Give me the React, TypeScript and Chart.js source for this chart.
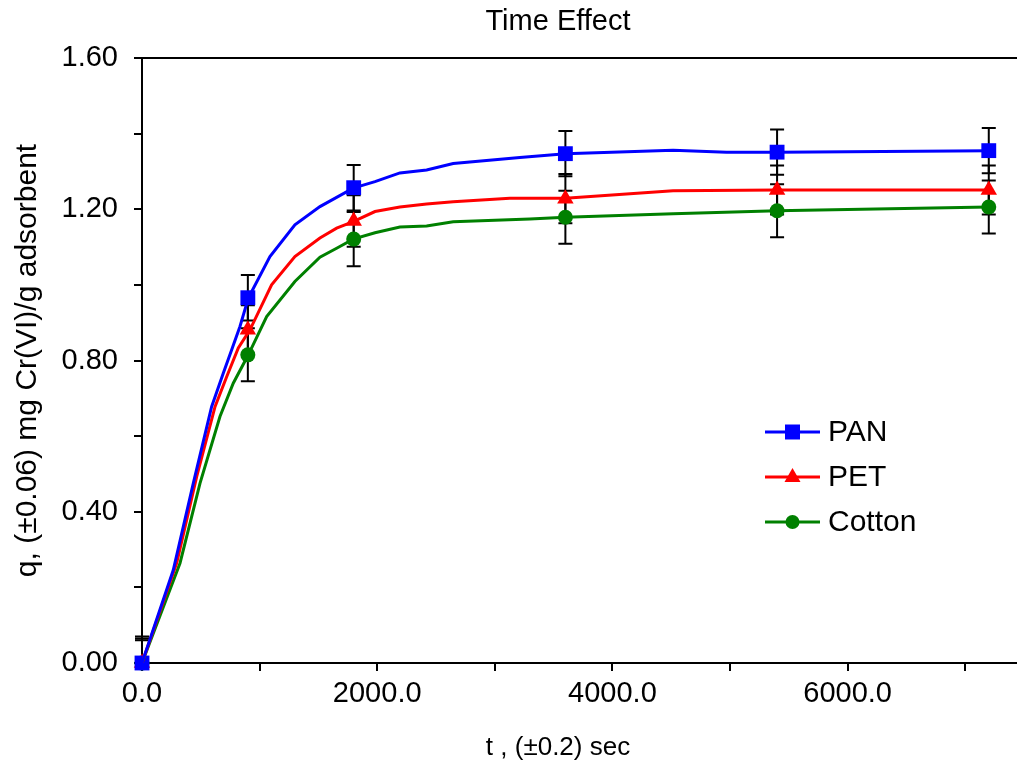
import React, { useEffect, useRef } from "react";
import { Chart, registerables } from "chart.js";

Chart.register(...registerables);

const FONT = "'Liberation Sans', Arial, sans-serif";

const chartTitle = "Time Effect";
const xTitle = "t , (±0.2) sec";
const yTitle = "q, (±0.06) mg Cr(VI)/g adsorbent";
const seriesNames = ["PAN", "PET", "Cotton"];
const seriesColors = ["#0000FF", "#FF0000", "#008000"];
const seriesShapes = ["rect", "triangle", "circle"];

// axis ticks
const xTickValues = [0, 1000, 2000, 3000, 4000, 5000, 6000, 7000];
const xTickLabels = ["0.0", "", "2000.0", "", "4000.0", "", "6000.0", ""];
const yTickValues = [0, 0.2, 0.4, 0.6, 0.8, 1.0, 1.2, 1.4, 1.6];
const yTickLabels = ["0.00", "", "0.40", "", "0.80", "", "1.20", "", "1.60"];

// measured points (with error bars)
const markerTimes = [0, 900, 1800, 3600, 5400, 7200];
const panMarkers = [0, 0.966, 1.257, 1.347, 1.351, 1.355];
const petMarkers = [0, 0.881, 1.169, 1.228, 1.251, 1.251];
const cottonMarkers = [0, 0.815, 1.121, 1.179, 1.196, 1.206];
const panErrors = [0.06, 0.06, 0.06, 0.06, 0.06, 0.06];
const petErrors = [0.065, 0.065, 0.068, 0.065, 0.065, 0.065];
const cottonErrors = [0.07, 0.07, 0.072, 0.07, 0.07, 0.07];

// fitted curves
const panCurveT = [0, 266, 436, 592, 691, 762, 833, 904, 1088, 1300, 1513, 1796, 1981, 2193, 2420, 2646, 3213, 3600, 4516, 4970, 5400, 7200];
const panCurveQ = [0, 0.246, 0.475, 0.678, 0.766, 0.828, 0.89, 0.965, 1.075, 1.159, 1.207, 1.256, 1.273, 1.296, 1.304, 1.321, 1.337, 1.347, 1.356, 1.351, 1.351, 1.355];
const petCurveT = [0, 295, 465, 621, 720, 819, 918, 1102, 1300, 1513, 1655, 1796, 1981, 2193, 2420, 2646, 3128, 3600, 4516, 5400, 7200];
const petCurveQ = [0, 0.264, 0.493, 0.678, 0.757, 0.833, 0.881, 1.0, 1.075, 1.124, 1.15, 1.167, 1.194, 1.206, 1.214, 1.22, 1.229, 1.229, 1.249, 1.251, 1.251];
const cottonCurveT = [0, 323, 493, 663, 776, 904, 1060, 1300, 1513, 1655, 1796, 1981, 2193, 2420, 2646, 3298, 3600, 4516, 5400, 7200];
const cottonCurveQ = [0, 0.264, 0.475, 0.652, 0.74, 0.815, 0.916, 1.009, 1.073, 1.097, 1.121, 1.138, 1.153, 1.156, 1.167, 1.174, 1.179, 1.188, 1.196, 1.206];

const markerSets = [panMarkers, petMarkers, cottonMarkers];
const errorSets = [panErrors, petErrors, cottonErrors];
const curveSets = [
  [panCurveT, panCurveQ],
  [petCurveT, petCurveQ],
  [cottonCurveT, cottonCurveQ],
];

function drawShape(ctx: CanvasRenderingContext2D, shape: string, x: number, y: number, color: string) {
  ctx.save();
  ctx.fillStyle = color;
  ctx.beginPath();
  if (shape === "rect") {
    ctx.rect(x - 7.5, y - 7.5, 15, 15);
  } else if (shape === "triangle") {
    ctx.moveTo(x, y - 9);
    ctx.lineTo(x + 8, y + 5);
    ctx.lineTo(x - 8, y + 5);
    ctx.closePath();
  } else {
    ctx.arc(x, y, 7, 0, Math.PI * 2);
  }
  ctx.fill();
  ctx.restore();
}

const errorBarPlugin = {
  id: "errorBars",
  beforeDatasetsDraw(chart: any) {
    const { ctx, chartArea, scales } = chart;
    const xs = scales.x;
    const ys = scales.y;
    ctx.save();
    ctx.beginPath();
    ctx.rect(chartArea.left - 10, chartArea.top, chartArea.right - chartArea.left + 20, chartArea.bottom - chartArea.top);
    ctx.clip();
    ctx.strokeStyle = "#000";
    ctx.lineWidth = 2;
    markerSets.forEach((vals, si) => {
      vals.forEach((v, i) => {
        const e = errorSets[si][i];
        const x = xs.getPixelForValue(markerTimes[i]);
        const yTop = ys.getPixelForValue(v + e);
        const yBot = ys.getPixelForValue(v - e);
        ctx.beginPath();
        ctx.moveTo(x, yTop);
        ctx.lineTo(x, yBot);
        ctx.moveTo(x - 7, yTop);
        ctx.lineTo(x + 7, yTop);
        ctx.moveTo(x - 7, yBot);
        ctx.lineTo(x + 7, yBot);
        ctx.stroke();
      });
    });
    ctx.restore();
  },
};

const extrasPlugin = {
  id: "extras",
  afterDraw(chart: any) {
    const { ctx, chartArea } = chart;
    ctx.save();
    // top border of plot area
    ctx.strokeStyle = "#000";
    ctx.lineWidth = 2;
    ctx.beginPath();
    ctx.moveTo(chartArea.left, chartArea.top);
    ctx.lineTo(chartArea.right, chartArea.top);
    ctx.stroke();

    // titles
    ctx.fillStyle = "#000";
    ctx.textAlign = "center";
    ctx.textBaseline = "middle";
    ctx.font = `29px ${FONT}`;
    ctx.fillText(chartTitle, 558, 22);
    ctx.font = `26px ${FONT}`;
    ctx.fillText(xTitle, 558, 748);

    // legend
    const lx0 = 765;
    const lx1 = 820;
    const ly = [432, 477, 522];
    seriesNames.forEach((name, i) => {
      ctx.strokeStyle = seriesColors[i];
      ctx.lineWidth = 3;
      ctx.beginPath();
      ctx.moveTo(lx0, ly[i]);
      ctx.lineTo(lx1, ly[i]);
      ctx.stroke();
      drawShape(ctx, seriesShapes[i], (lx0 + lx1) / 2, ly[i], seriesColors[i]);
      ctx.fillStyle = "#000";
      ctx.textAlign = "left";
      ctx.font = `30px ${FONT}`;
      ctx.fillText(name, 828, ly[i] + 1);
    });
    ctx.restore();
  },
};

export default function App() {
  const ref = useRef<HTMLCanvasElement>(null);

  useEffect(() => {
    const canvas = ref.current;
    if (!canvas) return;

    const datasets: any[] = [];
    curveSets.forEach(([ts, qs], i) => {
      datasets.push({
        label: seriesNames[i] + " curve",
        data: ts.map((t, k) => ({ x: t, y: qs[k] })),
        borderColor: seriesColors[i],
        borderWidth: 3,
        pointRadius: 0,
        tension: 0,
        fill: false,
      });
    });
    markerSets.forEach((vals, i) => {
      datasets.push({
        label: seriesNames[i],
        data: vals.map((v, k) => ({ x: markerTimes[k], y: v })),
        showLine: false,
        pointStyle: seriesShapes[i],
        pointRadius: seriesShapes[i] === "rect" ? 10.5 : seriesShapes[i] === "triangle" ? 9.5 : 7.5,
        pointBackgroundColor: seriesColors[i],
        pointBorderColor: seriesColors[i],
        pointBorderWidth: 0,
        clip: false,
      });
    });

    const tickFont = { family: FONT, size: 29 };

    const chart = new Chart(canvas, {
      type: "line",
      data: { datasets },
      options: {
        responsive: false,
        animation: false,
        devicePixelRatio: 1,
        events: [],
        layout: { autoPadding: false, padding: { top: 58, left: 0, right: 0, bottom: 0 } },
        plugins: {
          legend: { display: false },
          tooltip: { enabled: false },
          title: { display: false },
        },
        scales: {
          x: {
            type: "linear",
            min: 0,
            max: 7440,
            bounds: "data",
            afterBuildTicks: (s: any) => {
              s.ticks = xTickValues.map((v) => ({ value: v }));
            },
            afterFit: (s: any) => {
              s.height = 111;
              s.paddingLeft = 0;
              s.paddingRight = 0;
            },
            ticks: {
              autoSkip: false,
              maxRotation: 0,
              color: "#000",
              font: tickFont,
              padding: 6,
              callback: (_v: any, i: number) => xTickLabels[i] ?? "",
            },
            grid: {
              drawOnChartArea: false,
              drawTicks: true,
              tickLength: 8,
              color: "#000",
              lineWidth: 2,
            },
            border: { display: true, color: "#000", width: 2 },
          },
          y: {
            type: "linear",
            min: 0,
            max: 1.6,
            bounds: "data",
            afterBuildTicks: (s: any) => {
              s.ticks = yTickValues.map((v) => ({ value: v }));
            },
            afterFit: (s: any) => {
              s.width = 142;
            },
            ticks: {
              autoSkip: false,
              color: "#000",
              font: tickFont,
              padding: 16,
              callback: (_v: any, i: number) => yTickLabels[i] ?? "",
            },
            grid: {
              drawOnChartArea: false,
              drawTicks: true,
              tickLength: 8,
              color: "#000",
              lineWidth: 2,
            },
            border: { display: true, color: "#000", width: 2 },
            title: {
              display: true,
              text: yTitle,
              color: "#000",
              font: { family: FONT, size: 30 },
              padding: { top: 10, bottom: 0 },
            },
          },
        },
      },
      plugins: [errorBarPlugin, extrasPlugin],
    } as any);

    return () => chart.destroy();
  }, []);

  return (
    <div style={{ position: "absolute", left: 0, top: 0, width: 1017, height: 774, background: "#fff" }}>
      <canvas ref={ref} width={1017} height={774} style={{ width: 1017, height: 774, display: "block" }} />
    </div>
  );
}
